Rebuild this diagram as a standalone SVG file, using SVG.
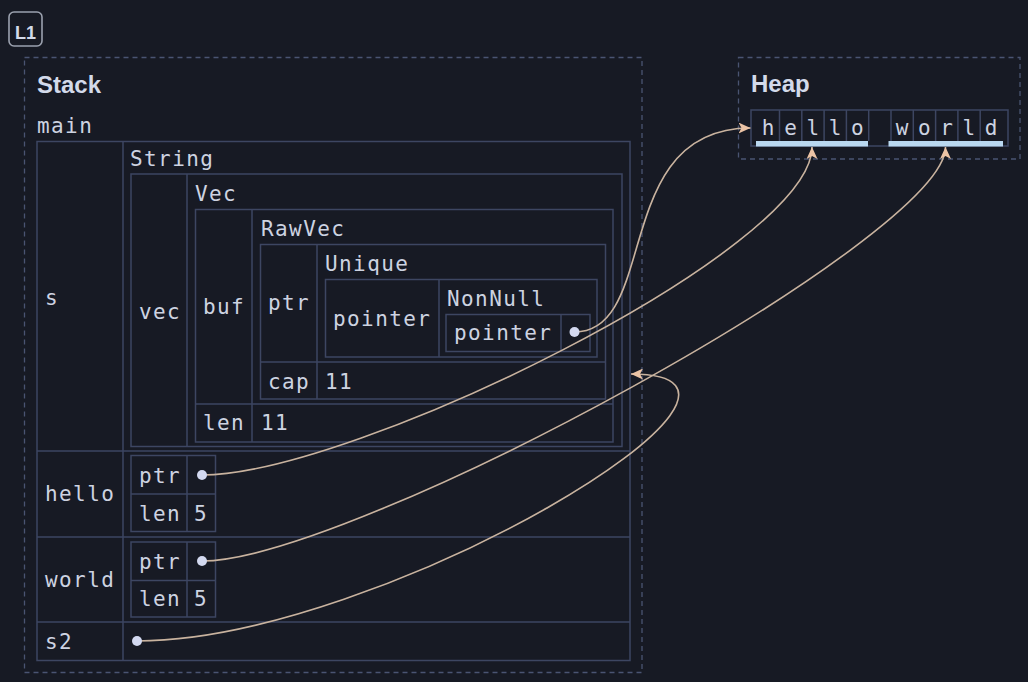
<svg xmlns="http://www.w3.org/2000/svg" width="1028" height="682" viewBox="0 0 1028 682">
<style>
.cell{fill:none;stroke:#3d4662;stroke-width:1.5}
.dash{fill:none;stroke:#4a5472;stroke-width:1.3;stroke-dasharray:5 4}
.mono{font-family:"DejaVu Sans Mono","Liberation Mono",monospace;font-size:21px;letter-spacing:1.4px;fill:#cdd3e1}
.ch{font-family:"DejaVu Sans Mono","Liberation Mono",monospace;font-size:21px;fill:#cdd3e1;text-anchor:middle}
.title{font-family:"Liberation Sans",Arial,sans-serif;font-weight:bold;font-size:24px;fill:#d3daea}
.dot{fill:#d3d9f0}
.edge{fill:none;stroke:#c9b39f;stroke-width:1.6}
.bar{fill:#b9d8f0}
</style>
<defs>
<marker id="arr" markerUnits="userSpaceOnUse" markerWidth="13" markerHeight="11" viewBox="0 0 13 11" refX="12" refY="5.5" orient="auto">
<path d="M0,0 L12,5.5 L0,11 L3,5.5 z" fill="#ebc3a5"/>
</marker>
</defs>
<rect width="1028" height="682" fill="#171a24"/>

<g id="badge">
<rect x="9" y="12" width="33" height="34" rx="5" fill="none" stroke="#9ba1ae" stroke-width="1.6"/>
<text x="25.5" y="38.5" text-anchor="middle" font-family="Liberation Sans,Arial,sans-serif" font-weight="bold" font-size="18" fill="#d3daea">L1</text>
</g>

<g id="stack">
<rect class="dash" x="24.5" y="57.5" width="617.5" height="615"/>
<text class="title" x="37" y="93">Stack</text>
<text class="mono" x="37" y="133">main</text>
</g>

<g id="main-table">
<rect class="cell" x="37" y="141.5" width="593" height="519"/>
<line class="cell" x1="123" y1="141.5" x2="123" y2="660.5"/>
<line class="cell" x1="37" y1="451" x2="630" y2="451"/>
<line class="cell" x1="37" y1="537" x2="630" y2="537"/>
<line class="cell" x1="37" y1="622" x2="630" y2="622"/>
</g>

<g id="var-s">
<text class="mono" x="45" y="305">s</text>
<text class="mono" x="130" y="166">String</text>
<rect class="cell" x="131" y="174" width="491" height="272.5"/>
<line class="cell" x1="187" y1="174" x2="187" y2="446.5"/>
<text class="mono" x="139" y="319">vec</text>
<text class="mono" x="195" y="201">Vec</text>
<rect class="cell" x="195.5" y="209.5" width="417.5" height="232.5"/>
<line class="cell" x1="252" y1="209.5" x2="252" y2="442"/>
<line class="cell" x1="195.5" y1="404" x2="613" y2="404"/>
<text class="mono" x="203" y="314">buf</text>
<text class="mono" x="203" y="430">len</text>
<text class="mono" x="261" y="430">11</text>
<text class="mono" x="261" y="236">RawVec</text>
<rect class="cell" x="260.5" y="244.5" width="345" height="154.5"/>
<line class="cell" x1="317" y1="244.5" x2="317" y2="399"/>
<line class="cell" x1="260.5" y1="362" x2="605.5" y2="362"/>
<text class="mono" x="268" y="310">ptr</text>
<text class="mono" x="268" y="389">cap</text>
<text class="mono" x="325" y="389">11</text>
<text class="mono" x="325" y="271">Unique</text>
<rect class="cell" x="325.5" y="279.5" width="271.5" height="77.5"/>
<line class="cell" x1="439" y1="279.5" x2="439" y2="357"/>
<text class="mono" x="333" y="326">pointer</text>
<text class="mono" x="447" y="306">NonNull</text>
<rect class="cell" x="446" y="314.5" width="144" height="37"/>
<line class="cell" x1="561" y1="314.5" x2="561" y2="351.5"/>
<text class="mono" x="454" y="340">pointer</text>
</g>

<g id="var-hello">
<text class="mono" x="45" y="501">hello</text>
<rect class="cell" x="131" y="455.5" width="84.5" height="76"/>
<line class="cell" x1="187" y1="455.5" x2="187" y2="531.5"/>
<line class="cell" x1="131" y1="494" x2="215.5" y2="494"/>
<text class="mono" x="139" y="483">ptr</text>
<text class="mono" x="139" y="521">len</text>
<text class="mono" x="194" y="521">5</text>
</g>

<g id="var-world">
<text class="mono" x="45" y="587">world</text>
<rect class="cell" x="131" y="542" width="84.5" height="75"/>
<line class="cell" x1="187" y1="542" x2="187" y2="617"/>
<line class="cell" x1="131" y1="580.5" x2="215.5" y2="580.5"/>
<text class="mono" x="139" y="569">ptr</text>
<text class="mono" x="139" y="606">len</text>
<text class="mono" x="194" y="606">5</text>
</g>

<g id="var-s2">
<text class="mono" x="45" y="649">s2</text>
</g>

<g id="heap">
<rect class="dash" x="738.5" y="57.5" width="281.5" height="101.5"/>
<text class="title" x="751" y="92">Heap</text>
<rect class="cell" x="751" y="110" width="257" height="36"/>
<g class="cell">
<line x1="779.5" y1="110" x2="779.5" y2="141"/>
<line x1="801.8" y1="110" x2="801.8" y2="141"/>
<line x1="824.1" y1="110" x2="824.1" y2="141"/>
<line x1="846.4" y1="110" x2="846.4" y2="141"/>
<line x1="868.7" y1="110" x2="868.7" y2="141"/>
<line x1="891" y1="110" x2="891" y2="141"/>
<line x1="913.3" y1="110" x2="913.3" y2="141"/>
<line x1="935.6" y1="110" x2="935.6" y2="141"/>
<line x1="957.9" y1="110" x2="957.9" y2="141"/>
<line x1="980.2" y1="110" x2="980.2" y2="141"/>
</g>
</g>

<g id="heap-hello">
<text class="ch" x="768.2" y="135">h</text>
<text class="ch" x="790.5" y="135">e</text>
<text class="ch" x="812.8" y="135">l</text>
<text class="ch" x="835.1" y="135">l</text>
<text class="ch" x="857.4" y="135">o</text>
<rect class="bar" x="756" y="141" width="112" height="5.5"/>
</g>

<g id="heap-world">
<text class="ch" x="902" y="135">w</text>
<text class="ch" x="924.3" y="135">o</text>
<text class="ch" x="946.6" y="135">r</text>
<text class="ch" x="968.9" y="135">l</text>
<text class="ch" x="991.2" y="135">d</text>
<rect class="bar" x="888.5" y="141" width="114.5" height="5.5"/>
</g>

<g id="connectors">
<path class="edge" d="M574.5,332 C660,332 610,128 750.5,128" marker-end="url(#arr)"/>
<path class="edge" d="M202,475 C352,475 812,250 812,147" marker-end="url(#arr)"/>
<path class="edge" d="M202,561 C352,561 945.5,238 945.5,147" marker-end="url(#arr)"/>
<path class="edge" d="M137,641 C380,641 825,374 631,374" marker-end="url(#arr)"/>
<circle class="dot" cx="574.5" cy="332" r="5"/>
<circle class="dot" cx="202" cy="475" r="5"/>
<circle class="dot" cx="202" cy="561" r="5"/>
<circle class="dot" cx="137" cy="641" r="5"/>
</g>
</svg>
